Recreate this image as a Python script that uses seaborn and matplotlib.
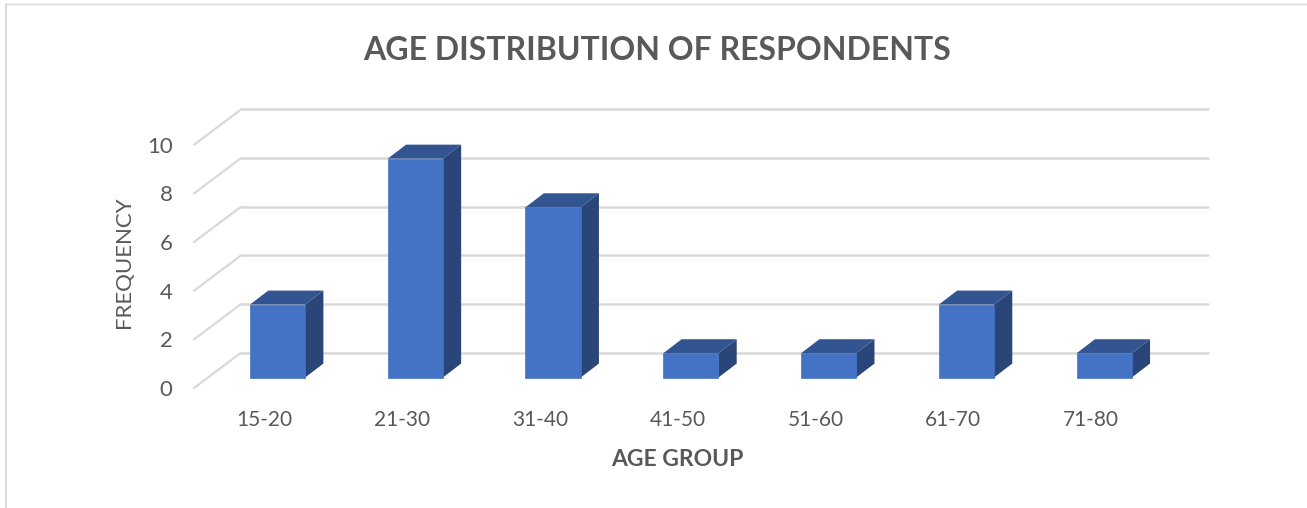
import matplotlib
matplotlib.use('Agg')
import matplotlib.pyplot as plt
from matplotlib.lines import Line2D
import pandas as pd
import seaborn as sns

age_groups = ['15-20', '21-30', '31-40', '41-50', '51-60', '61-70', '71-80']
frequency = [3, 9, 7, 1, 1, 3, 1]
y_ticks = [0, 2, 4, 6, 8, 10]

sns.set_theme(style='white')
plt.rcParams['font.family'] = ['Lato', 'DejaVu Sans']

TEXT = '#595959'
GRID = '#D9D9D9'
FRONT = '#4472C4'
SIDE = '#2A4678'
TOP = '#325592'

# fake 3D offsets in data units (1 category = 137.8px, 1 frequency = 24.35px)
bar_w = 0.40
depth_x = 0.133
depth_y = 0.575
wall_left = -0.265
wall_right = 6.75
wall_rise = 1.02
floor_left = -0.606
floor_drop = -0.43

W, H = 1307, 508
fig = plt.figure(figsize=(W / 100, H / 100), dpi=100)
ax = fig.add_axes([194 / W, 1 - 388 / H, 1013.5 / W, 278.5 / H])

df = pd.DataFrame({'age': age_groups, 'freq': frequency})
sns.barplot(data=df, x='age', y='freq', color=FRONT, saturation=1, width=bar_w, ax=ax, zorder=3,
            edgecolor=FRONT, linewidth=0.5)

# back wall grid and the diagonal on the side wall
for v in y_ticks:
    ax.plot([wall_left, wall_right], [v + wall_rise, v + wall_rise], color=GRID, lw=1.8, zorder=1, clip_on=False)
    ax.plot([floor_left, wall_left], [v + floor_drop, v + wall_rise], color=GRID, lw=1.6, zorder=1, clip_on=False)

# side and top faces of every bar
for i, v in enumerate(frequency):
    r = i + bar_w / 2
    l = i - bar_w / 2
    ax.fill([r, r + depth_x, r + depth_x, r], [0, depth_y, v + depth_y, v], color=SIDE, lw=0, zorder=2)
    ax.fill([l, l + depth_x, r + depth_x, r], [v, v + depth_y, v + depth_y, v], color=TOP, lw=0, zorder=2)

ax.set_xlim(floor_left, wall_right)
ax.set_ylim(floor_drop, 10 + wall_rise)

ax.set_xticks([i - 0.095 for i in range(len(age_groups))])
ax.set_xticklabels(age_groups, fontsize=15, color=TEXT)
ax.set_yticks([v + floor_drop for v in y_ticks])
ax.set_yticklabels([str(v) for v in y_ticks], fontsize=16, color=TEXT)
ax.tick_params(axis='x', length=0, pad=16)
ax.tick_params(axis='y', length=0, pad=15.5)

ax.set_title('AGE DISTRIBUTION OF RESPONDENTS', fontsize=23, fontweight='bold', color=TEXT,
             x=0.457, y=1.182, va='center')
ax.set_xlabel('AGE GROUP', fontsize=16.5, fontweight='bold', color=TEXT, va='center')
ax.set_ylabel('FREQUENCY', fontsize=16, color=TEXT, va='center')
ax.xaxis.set_label_coords(0.477, -0.258)
ax.yaxis.set_label_coords(-0.069, 0.453)

sns.despine(ax=ax, left=True, bottom=True)
ax.patch.set_visible(False)

# chart frame, cut off at the right and bottom
fig.add_artist(Line2D([5.5 / W, 1], [1 - 3.5 / H, 1 - 3.5 / H], color=GRID, lw=1))
fig.add_artist(Line2D([5.5 / W, 5.5 / W], [0, 1 - 3.5 / H], color=GRID, lw=1.4))

fig.savefig('out.png', dpi=100)
